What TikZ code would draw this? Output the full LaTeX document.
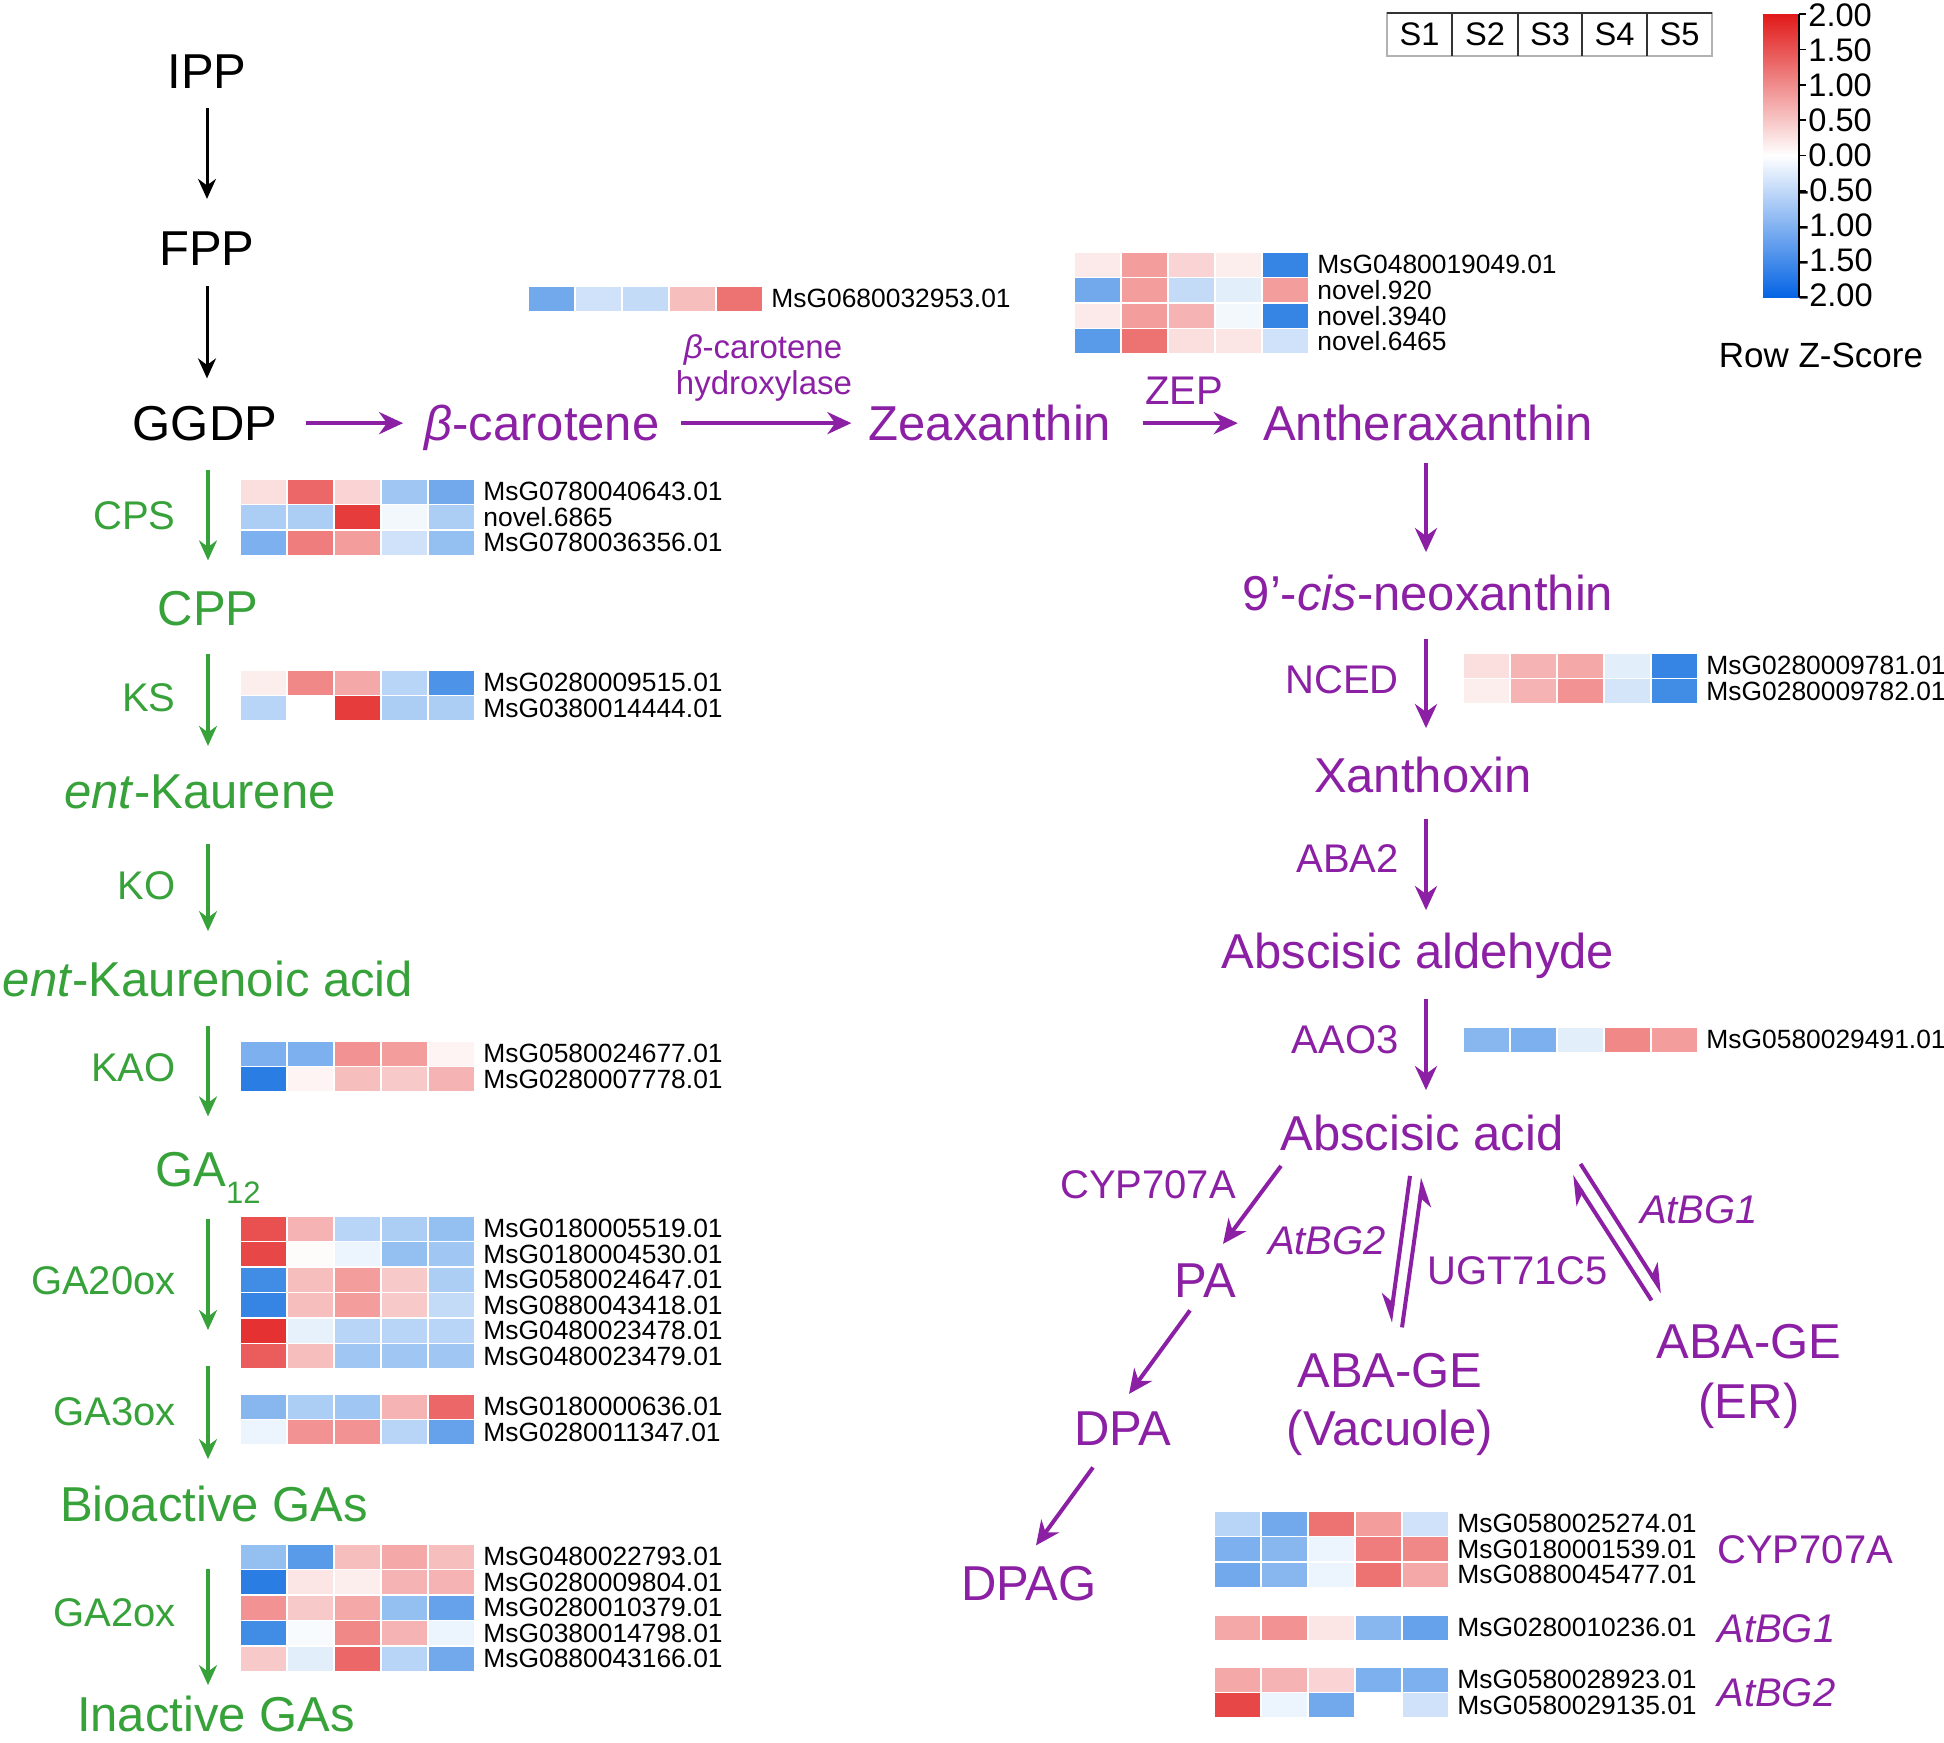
\documentclass[tikz,border=0pt]{standalone}
\usepackage{fontspec}
\setmainfont{Liberation Sans}
\usetikzlibrary{arrows.meta,calc}
\definecolor{pu}{RGB}{140,32,165}
\definecolor{gr}{RGB}{55,162,58}
\definecolor{hr}{RGB}{228,38,38}
\definecolor{hb}{RGB}{18,112,224}
\definecolor{cbR}{RGB}{225,25,25}
\definecolor{cbB}{RGB}{5,100,228}
% heat map row: name, x, y(top), five colours, gene id
\newcommand{\hmrow}[5]{%
  \foreach \cc [count=\ii from 0] in {#4} {
    \path[fill=\cc, draw=white, line width=0.7pt] ({#2+47*\ii},#3) rectangle ++(47,25.5);
  }
  \node[gene, anchor=west] (#1) at ({#2+243},{#3+12.75}) {#5};
}
\begin{document}
\begin{tikzpicture}[x=0.5pt,y=-0.5pt,
  big/.style={font=\fontsize{24.5pt}{28pt}\selectfont, inner sep=0pt},
  enz/.style={font=\fontsize{20pt}{24pt}\selectfont, inner sep=0pt},
  gene/.style={font=\fontsize{13.2pt}{15pt}\selectfont, inner sep=0pt},
  hyd/.style={font=\fontsize{16.5pt}{19pt}\selectfont, inner sep=0pt, text=pu},
  cbl/.style={font=\fontsize{16.3pt}{18pt}\selectfont, inner sep=0pt},
  gt/.style={text=gr}, pt/.style={text=pu},
  blk/.style={draw=black, line width=1.5pt, -{Stealth[length=10pt,width=9pt]}},
  grn/.style={draw=gr, line width=1.6pt, -{Stealth[length=10pt,width=9pt]}},
  pur/.style={draw=pu, line width=2pt, -{Stealth[length=12pt,width=11pt]}},
  harp/.style={draw=pu, line width=2pt, -{Stealth[harpoon,length=12pt,width=12pt]}},
  harps/.style={draw=pu, line width=2pt, -{Stealth[harpoon,swap,length=12pt,width=12pt]}},
]
\useasboundingbox (0,0) rectangle (1944,1742);
\fill[white] (0,0) rectangle (1944,1742);
\coordinate (colL) at (208,0);
\coordinate (colB) at (207,0);
\coordinate (colR) at (1426,0);

% ---------- header and colour key ----------
\draw[gray!60, line width=0.8pt] (1387,12.6) rectangle (1712,56);
\draw[black!80, line width=1pt] (1387,12.6) -- (1712,12.6);
\foreach \xx in {1452,1518,1582,1647} \draw[black!80, line width=1.1pt] (\xx,12.6) -- (\xx,56);
\foreach \s/\xx in {1/1419.5,2/1485,3/1550,4/1614.5,5/1679.5}
  \node[cbl, anchor=base] (S\s) at (\xx,45) {S\s};
\shade[top color=cbR, bottom color=cbB, middle color=white] (1763,14) rectangle (1799,297);
\draw[line width=0.8pt] (1799,14) -- (1799,297);
\foreach \i in {0,...,8} \draw[line width=0.8pt] (1799,{14+35.4*\i}) -- ++(7,0);
\foreach \lab [count=\i from 0] in {2.00,1.50,1.00,0.50,0.00}
  \node[cbl, anchor=base west] (cbp\i) at (1808,{26+35.1*\i}) {\lab};
\foreach \lab [count=\i from 5] in {-0.50,-1.00,-1.50,-2.00}
  \node[cbl, anchor=base west] (cbn\i) at (1798,{26+35.1*\i}) {\lab};
\node[font=\fontsize{17.5pt}{20pt}\selectfont, inner sep=0pt, anchor=base] (rz) at (1821,367) {Row Z-Score};

% ---------- black part ----------
\node[big, anchor=base] (IPP) at (207,88.5) {IPP};
\node[big, anchor=base] (FPP) at (207,265) {FPP};
\node[big, anchor=base] (GGDP) at (205,440) {GGDP};
\draw[blk, shorten <=9.75pt, shorten >=16pt] (IPP.south -| colB) -- (FPP.north -| colB);
\draw[blk, shorten <=10.5pt, shorten >=13.5pt] (FPP.south -| colB) -- (GGDP.north -| colB);

% ---------- carotenoid row ----------
\node[big, pt, anchor=base] (bcar) at (542,440) {\textit{β}-carotene};
\node[big, pt, anchor=base] (zea) at (990,440) {Zeaxanthin};
\node[big, pt, anchor=base] (anth) at (1428,440) {Antheraxanthin};
\draw[pur, shorten <=14pt, shorten >=10.5pt] (GGDP.east) -- (GGDP.east -| bcar.west);
\draw[pur, shorten <=10.5pt, shorten >=8.5pt] (bcar.east |- GGDP.east) -- (zea.west |- GGDP.east);
\draw[pur, shorten <=15.5pt, shorten >=12.5pt] (zea.east |- GGDP.east) -- (anth.west |- GGDP.east);
\node[hyd, anchor=base] (hyd1) at (763,358) {\textit{β}-carotene};
\node[hyd, anchor=base] (hyd2) at (764,394) {hydroxylase};
\node[enz, pt, anchor=base] (zep) at (1184,404) {ZEP};

\hmrow{g0}{528}{286}{hb!60,hb!20,hb!25,hr!30,hr!65}{MsG0680032953.01}
\hmrow{z1}{1074}{252}{hr!10,hr!45,hr!20,hr!8,hb!85}{MsG0480019049.01}
\hmrow{z2}{1074}{277.5}{hb!60,hr!45,hb!25,hb!12,hr!45}{novel.920}
\hmrow{z3}{1074}{303}{hr!10,hr!45,hr!35,hb!5,hb!85}{novel.3940}
\hmrow{z4}{1074}{328.5}{hb!70,hr!65,hr!15,hr!12,hb!20}{novel.6465}

% ---------- GA branch (green) ----------
\node[big, gt, anchor=base] (CPP) at (208,625.5) {CPP};
\node[big, gt, anchor=base] (entK) at (200,808.5) {\textit{ent}-Kaurene};
\node[big, gt, anchor=base] (entKA) at (208,996.5) {\textit{ent}-Kaurenoic acid};
\node[big, gt, anchor=base west] (GA12) at (155,1186) {GA\raisebox{-8.5pt}{\fontsize{15.5pt}{17pt}\selectfont 12}};
\coordinate (gamid) at (208,1348);
\node[big, gt, anchor=base] (bioGA) at (214,1521.5) {Bioactive GAs};
\node[big, gt, anchor=base] (inGA) at (216,1731) {Inactive GAs};

\draw[grn, shorten <=14.5pt, shorten >=15.25pt] (GGDP.south -| colL) -- (CPP.north -| colL);
\draw[grn, shorten <=13.75pt, shorten >=14.25pt] (CPP.south -| colL) -- (entK.north -| colL);
\draw[grn, shorten <=17.25pt, shorten >=14.75pt] (entK.south -| colL) -- (entKA.north -| colL);
\draw[grn, shorten <=14.25pt, shorten >=17.5pt] (entKA.south -| colL) -- (GA12.north -| colL);
\draw[grn, shorten <=8pt, shorten >=9pt] (GA12.south -| colL) -- (gamid);
\draw[grn, shorten <=9pt, shorten >=13.25pt] (gamid) -- (bioGA.north -| colL);
\draw[grn, shorten <=23.25pt, shorten >=5pt] (bioGA.south -| colL) -- (inGA.north -| colL);

\node[enz, gt, anchor=base east] (CPS) at (176,529) {CPS};
\node[enz, gt, anchor=base east] (KS) at (176,711) {KS};
\node[enz, gt, anchor=base east] (KO) at (176,899) {KO};
\node[enz, gt, anchor=base east] (KAO) at (176,1081) {KAO};
\node[enz, gt, anchor=base east] (GA20) at (176,1294) {GA20ox};
\node[enz, gt, anchor=base east] (GA3) at (176,1425) {GA3ox};
\node[enz, gt, anchor=base east] (GA2) at (176,1626) {GA2ox};

\hmrow{c1}{240}{479}{hr!15,hr!70,hr!20,hb!40,hb!60}{MsG0780040643.01}
\hmrow{c2}{240}{504.5}{hb!35,hb!35,hr!90,hb!5,hb!35}{novel.6865}
\hmrow{c3}{240}{530}{hb!55,hr!60,hr!45,hb!20,hb!45}{MsG0780036356.01}

\hmrow{k1}{240}{670}{hr!8,hr!55,hr!40,hb!30,hb!75}{MsG0280009515.01}
\hmrow{k2}{240}{695.5}{hb!30,hr!0,hr!90,hb!35,hb!35}{MsG0380014444.01}

\hmrow{a1}{240}{1041}{hb!55,hb!55,hr!50,hr!45,hr!5}{MsG0580024677.01}
\hmrow{a2}{240}{1066.5}{hb!90,hr!5,hr!30,hr!25,hr!35}{MsG0280007778.01}

\hmrow{t1}{240}{1216}{hr!80,hr!35,hb!30,hb!35,hb!45}{MsG0180005519.01}
\hmrow{t2}{240}{1241.5}{hr!85,hr!2,hb!8,hb!45,hb!40}{MsG0180004530.01}
\hmrow{t3}{240}{1267}{hb!80,hr!30,hr!45,hr!25,hb!35}{MsG0580024647.01}
\hmrow{t4}{240}{1292.5}{hb!85,hr!30,hr!45,hr!25,hb!25}{MsG0880043418.01}
\hmrow{t5}{240}{1318}{hr!95,hb!10,hb!30,hb!30,hb!30}{MsG0480023478.01}
\hmrow{t6}{240}{1343.5}{hr!75,hr!30,hb!40,hb!40,hb!40}{MsG0480023479.01}

\hmrow{h1}{240}{1394}{hb!50,hb!35,hb!40,hr!35,hr!70}{MsG0180000636.01}
\hmrow{h2}{240}{1419.5}{hb!8,hr!50,hr!50,hb!30,hb!65}{MsG0280011347.01}

\hmrow{i1}{240}{1544}{hb!45,hb!70,hr!30,hr!40,hr!30}{MsG0480022793.01}
\hmrow{i2}{240}{1569.5}{hb!90,hr!12,hr!8,hr!35,hr!35}{MsG0280009804.01}
\hmrow{i3}{240}{1595}{hr!50,hr!25,hr!40,hb!45,hb!65}{MsG0280010379.01}
\hmrow{i4}{240}{1620.5}{hb!80,hb!3,hr!55,hr!35,hb!8}{MsG0380014798.01}
\hmrow{i5}{240}{1646}{hr!25,hb!12,hr!70,hb!30,hb!60}{MsG0880043166.01}

% ---------- ABA branch (purple) ----------
\node[big, pt, anchor=base] (cis) at (1428,610.5) {9’-\textit{cis}-neoxanthin};
\node[big, pt, anchor=base] (xan) at (1423,792.5) {Xanthoxin};
\node[big, pt, anchor=base] (ald) at (1418,968) {Abscisic aldehyde};
\node[big, pt, anchor=base] (ABA) at (1422,1150) {Abscisic acid};
\draw[pur, shorten <=11pt, shorten >=11.25pt] (anth.south -| colR) -- (cis.north -| colR);
\draw[pur, shorten <=13.75pt, shorten >=14.25pt] (cis.south -| colR) -- (xan.north -| colR);
\draw[pur, shorten <=12.75pt, shorten >=11pt] (xan.south -| colR) -- (ald.north -| colR);
\draw[pur, shorten <=10pt, shorten >=12pt] (ald.south -| colR) -- (ABA.north -| colR);
\node[enz, pt, anchor=base east] (NCED) at (1399,693) {NCED};
\node[enz, pt, anchor=base east] (ABA2) at (1399,872) {ABA2};
\node[enz, pt, anchor=base east] (AAO3) at (1399,1053) {AAO3};

\hmrow{n1}{1463}{653}{hr!15,hr!35,hr!40,hb!12,hb!85}{MsG0280009781.01}
\hmrow{n2}{1463}{678.5}{hr!8,hr!35,hr!50,hb!18,hb!80}{MsG0280009782.01}
\hmrow{o1}{1463}{1027}{hb!50,hb!55,hb!12,hr!55,hr!45}{MsG0580029491.01}

\node[big, pt, anchor=base] (PA) at (1205,1297) {PA};
\node[big, pt, anchor=base] (DPA) at (1123,1445) {DPA};
\node[big, pt, anchor=base] (DPAG) at (1029,1600) {DPAG};
\node[big, pt, anchor=base] (vge) at (1390,1387) {ABA-GE};
\node[big, pt, anchor=base] (vac) at (1390,1445) {(Vacuole)};
\node[big, pt, anchor=base] (ege) at (1749,1358) {ABA-GE};
\node[big, pt, anchor=base] (er) at (1749,1418) {(ER)};

\draw[pur] ($(ABA.south west)+(1,15)$) -- ($(PA.north)+(18,-19)$);
\draw[pur] ($(PA.south)+(-15,13)$) -- ($(DPA.north)+(6,-17)$);
\draw[pur] ($(DPA.south)+(-30,22)$) -- ($(DPAG.north)+(7,-20)$);

\draw[harps] ($(ABA.south)+(-12,25)$) -- ($(vge.north)+(0,-30)$);
\draw[harps] ($(vge.north)+(12,-25)$) -- ($(ABA.south)+(1,27)$);
\draw[harp] ($(ABA.south east)+(16.5,13)$) -- ($(ege.north west)+(6.5,-31)$);
\draw[harp] ($(ege.north west)+(-4.5,-23)$) -- ($(ABA.south east)+(7.5,25)$);

\node[enz, pt, anchor=base] (cyp) at (1148,1198) {CYP707A};
\node[enz, pt, anchor=base] (bg2) at (1327,1254) {\textit{AtBG2}};
\node[enz, pt, anchor=base] (ugt) at (1518,1284) {UGT71C5};
\node[enz, pt, anchor=base] (bg1) at (1699,1223) {\textit{AtBG1}};

\hmrow{y1}{1214}{1511}{hb!30,hb!60,hr!65,hr!45,hb!20}{MsG0580025274.01}
\hmrow{y2}{1214}{1536.5}{hb!55,hb!50,hb!8,hr!60,hr!55}{MsG0180001539.01}
\hmrow{y3}{1214}{1562}{hb!60,hb!50,hb!8,hr!65,hr!40}{MsG0880045477.01}
\hmrow{b1}{1214}{1615}{hr!40,hr!50,hr!12,hb!50,hb!65}{MsG0280010236.01}
\hmrow{b2}{1214}{1667}{hr!40,hr!35,hr!20,hb!55,hb!55}{MsG0580028923.01}
\hmrow{b3}{1214}{1692.5}{hr!85,hb!8,hb!60,hr!0,hb!20}{MsG0580029135.01}
\node[enz, pt, anchor=base west] (cypL) at (1717,1563) {CYP707A};
\node[enz, pt, anchor=base west] (bg1L) at (1717,1642) {\textit{AtBG1}};
\node[enz, pt, anchor=base west] (bg2L) at (1717,1706) {\textit{AtBG2}};
\end{tikzpicture}
\end{document}
